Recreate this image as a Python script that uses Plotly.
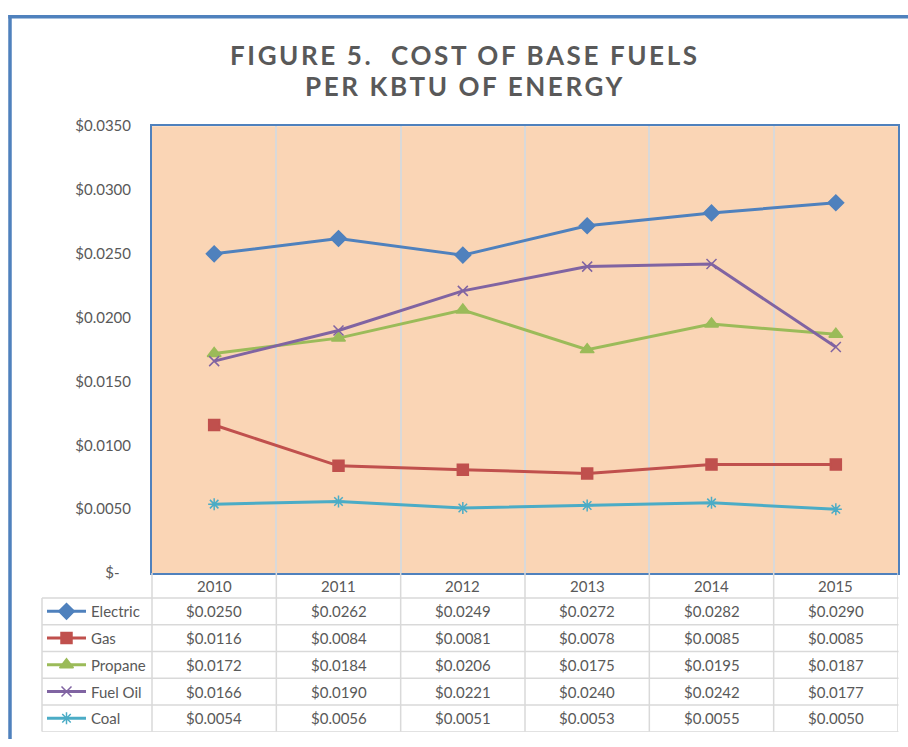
import plotly.graph_objects as go

years = ["2010", "2011", "2012", "2013", "2014", "2015"]
fuels = ["Electric", "Gas", "Propane", "Fuel Oil", "Coal"]
electric = [0.0250, 0.0262, 0.0249, 0.0272, 0.0282, 0.0290]
gas = [0.0116, 0.0084, 0.0081, 0.0078, 0.0085, 0.0085]
propane = [0.0172, 0.0184, 0.0206, 0.0175, 0.0195, 0.0187]
fuel_oil = [0.0166, 0.0190, 0.0221, 0.0240, 0.0242, 0.0177]
coal = [0.0054, 0.0056, 0.0051, 0.0053, 0.0055, 0.0050]
y_ticks = [0, 0.005, 0.010, 0.015, 0.020, 0.025, 0.030, 0.035]
title_lines = ["FIGURE 5.\u00a0 COST OF BASE FUELS", "PER KBTU OF ENERGY"]

series = [electric, gas, propane, fuel_oil, coal]
colors = ["#4F81BD", "#C0504D", "#9BBB59", "#8064A2", "#4BACC6"]
symbols = ["diamond", "square", "triangle-up", "x-thin-open", "asterisk-open"]
msizes = [12, 11, 12, 10, 10]

W, H = 908, 747
FONT = "Lato"
GREY = "#595959"
GRID = "#D9D9D9"
PEACH = "#FAD5B5"
BLUE = "#4F81BD"


def px(x):
    return x / W


def py(y):
    return (H - y) / H


def money(v):
    return "$-\u00a0\u00a0\u00a0" if v == 0 else f"${v:.4f}"


fig = go.Figure()

for name, vals, c, s, ms in zip(fuels, series, colors, symbols, msizes):
    fig.add_trace(go.Scatter(
        x=years, y=vals, name=name, mode="lines+markers",
        line=dict(color=c, width=3),
        marker=dict(symbol=s, size=ms, color=c, line=dict(color=c, width=1.5)),
        showlegend=False))

# legend swatches inside the data table (hidden axis x2/y2)
for i, (c, s, ms) in enumerate(zip(colors, symbols, msizes)):
    fig.add_trace(go.Scatter(
        x=[5, 44], y=[i + 0.5, i + 0.5], mode="lines",
        line=dict(color=c, width=3), xaxis="x2", yaxis="y2",
        showlegend=False, hoverinfo="skip"))
    fig.add_trace(go.Scatter(
        x=[24.5], y=[i + 0.5], mode="markers",
        marker=dict(symbol=s, size=ms, color=c, line=dict(color=c, width=1.5)),
        xaxis="x2", yaxis="y2", showlegend=False, hoverinfo="skip"))

tfont = dict(family=FONT, size=15, color=GREY)
annotations = []
for line, yc in zip(title_lines, [46, 78]):
    annotations.append(dict(
        text=f'<span style="letter-spacing:2.6px">{line}</span>',
        x=px(465), y=py(yc), xref="paper", yref="paper",
        xanchor="center", yanchor="middle", showarrow=False,
        font=dict(family=FONT, size=26, color=GREY, weight="bold")))

# header row (years)
for k, yr in enumerate(years):
    annotations.append(dict(text=yr, x=k, y=-0.465, xref="x", yref="y2",
                            showarrow=False, font=tfont))
# rows
for i, (name, vals) in enumerate(zip(fuels, series)):
    annotations.append(dict(text=name, x=47, y=i + 0.5, xref="x2", yref="y2",
                            xanchor="left", showarrow=False, font=tfont))
    for k, v in enumerate(vals):
        annotations.append(dict(text=f"${v:.4f}", x=k, y=i + 0.5, xref="x", yref="y2",
                                showarrow=False, font=tfont))

shapes = []
# plot area background (only on the main subplot)
shapes.append(dict(type="rect", xref="x domain", yref="y domain", x0=0, x1=1, y0=0, y1=1,
                   fillcolor=PEACH, line=dict(width=0), layer="below"))
# outer chart border: only its left and top edges are inside the picture
shapes.append(dict(type="line", xref="paper", yref="paper",
                   x0=px(10), x1=px(10), y0=0, y1=py(5.25),
                   line=dict(color=BLUE, width=3.5), layer="above"))
shapes.append(dict(type="line", xref="paper", yref="paper",
                   x0=px(8.25), x1=1, y0=py(7), y1=py(7),
                   line=dict(color=BLUE, width=3.5), layer="above"))
# table horizontal lines
for r in range(0, 6):
    shapes.append(dict(type="line", xref="paper", yref="y2",
                       x0=px(42), x1=px(898.5), y0=r, y1=r,
                       line=dict(color=GRID, width=1.5)))
# table vertical lines
shapes.append(dict(type="line", xref="paper", yref="y2",
                   x0=px(42), x1=px(42), y0=0, y1=5, line=dict(color=GRID, width=1.5)))
shapes.append(dict(type="line", xref="paper", yref="y2",
                   x0=px(152), x1=px(152), y0=-0.93, y1=5, line=dict(color=GRID, width=1.5)))
for k in range(len(years)):
    shapes.append(dict(type="line", xref="x", yref="y2",
                       x0=k + 0.5, x1=k + 0.5, y0=-0.93, y1=5,
                       line=dict(color=GRID, width=1.5)))

fig.update_layout(
    width=W, height=H,
    margin=dict(l=0, r=0, t=0, b=0),
    paper_bgcolor="white",
    plot_bgcolor="rgba(0,0,0,0)",
    font=dict(family=FONT, size=15, color=GREY),
    annotations=annotations,
    shapes=shapes,
    xaxis=dict(domain=[px(152), px(898)], type="category", tickson="boundaries",
               showticklabels=False, ticks="", showgrid=True, gridcolor=GRID, gridwidth=1.5,
               showline=True, mirror=True, linecolor=BLUE, linewidth=2,
               range=[-0.5, 5.5], fixedrange=True),
    yaxis=dict(domain=[py(577), py(119)], range=[0, 0.035],
               tickvals=y_ticks, ticktext=[money(v) for v in y_ticks],
               showgrid=False, zeroline=False, ticks="", ticklabelstandoff=16,
               showline=True, mirror=True, linecolor=BLUE, linewidth=2,
               tickfont=tfont),
    xaxis2=dict(domain=[px(42), px(152)], range=[0, 110], visible=False, anchor="y2"),
    yaxis2=dict(domain=[py(739.5), py(577)], range=[5, -0.93], visible=False, anchor="x2"),
)

# put the figure flush at the page's top-left corner, no mode bar
fig.write_html("out.html", config={"displayModeBar": False},
               post_script="document.body.style.margin='0';document.body.style.overflow='hidden';")
